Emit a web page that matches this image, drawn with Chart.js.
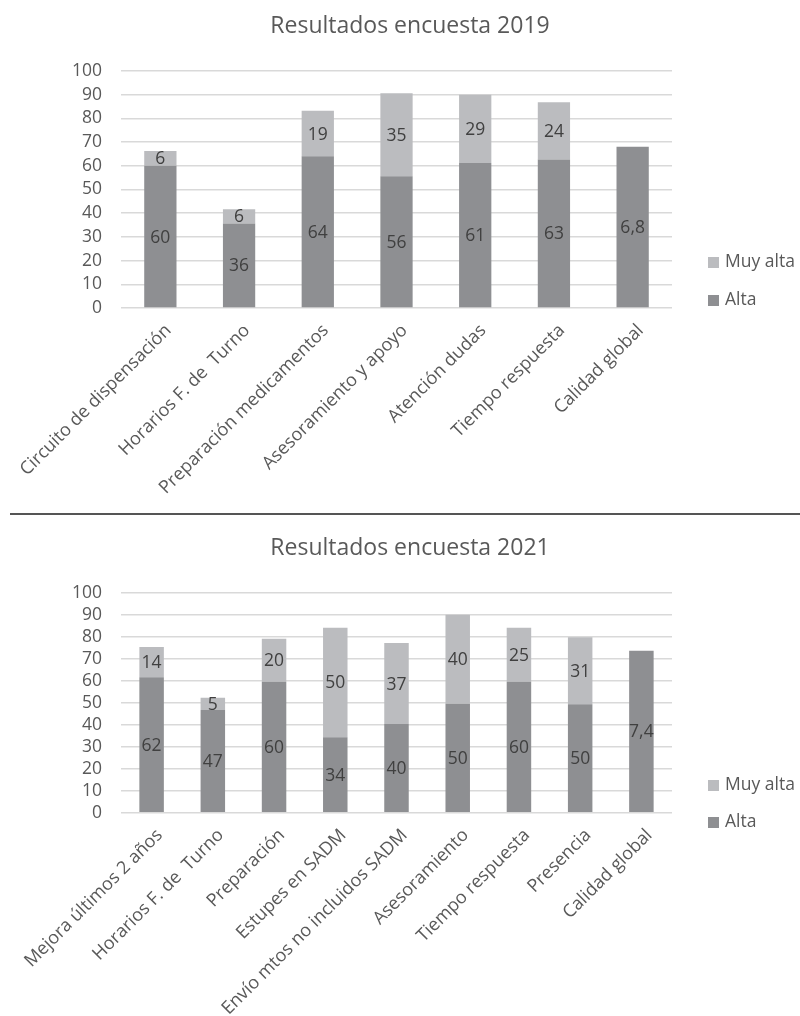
<!DOCTYPE html>
<html>
<head>
<meta charset="utf-8">
<script src="https://cdn.jsdelivr.net/npm/chart.js@4.4.0/dist/chart.umd.min.js"></script>
<style>
  body { margin: 0; background: #fff; font-family: "Open Sans", sans-serif; }
  .box { position: absolute; left: 0; width: 800px; }
  .sep { position: absolute; left: 10px; top: 513px; width: 790px; height: 2px; background: #555; }
  .leg { position: absolute; left: 708px; font-size: 17.5px; color: #595959; line-height: 20px; white-space: nowrap; }
  .leg span { display: inline-block; width: 11px; height: 11px; margin-right: 6px; vertical-align: -1px; }
</style>
</head>
<body>
<div class="box" style="top:0;height:512px"><canvas id="c2019"></canvas></div>
<div class="sep"></div>
<div class="box" style="top:516px;height:500px"><canvas id="c2021"></canvas></div>

<div class="leg" style="top:250px"><span style="background:#bbbcbf"></span>Muy alta</div>
<div class="leg" style="top:288px"><span style="background:#8e8f92"></span>Alta</div>
<div class="leg" style="top:773px"><span style="background:#bbbcbf"></span>Muy alta</div>
<div class="leg" style="top:810px"><span style="background:#8e8f92"></span>Alta</div>

<script>
// 2019 survey
const categories2019 = ["Circuito de dispensación", "Horarios F. de  Turno", "Preparación medicamentos",
  "Asesoramiento y apoyo", "Atención dudas", "Tiempo respuesta", "Calidad global"];
const alta2019 = [60, 35.7, 64, 55.6, 61.2, 62.7, 68];
const muyAlta2019 = [6.2, 6, 19.2, 35, 28.8, 24.1, null];
const altaText2019 = ["60", "36", "64", "56", "61", "63", "6,8"];
const muyAltaText2019 = ["6", "6", "19", "35", "29", "24", null];

// 2021 survey
const categories2021 = ["Mejora últimos 2 años", "Horarios F. de  Turno", "Preparación", "Estupes en SADM",
  "Envío mtos no incluidos SADM", "Asesoramiento", "Tiempo respuesta", "Presencia", "Calidad global"];
const alta2021 = [61.6, 46.7, 59.5, 34.3, 40.3, 49.5, 59.5, 49.3, 73.6];
const muyAlta2021 = [13.7, 5.6, 19.6, 49.8, 36.8, 40.5, 24.6, 30.4, null];
const altaText2021 = ["62", "47", "60", "34", "40", "50", "60", "50", "7,4"];
const muyAltaText2021 = ["14", "5", "20", "50", "37", "40", "25", "31", null];

const yTicks = { min: 0, max: 100, count: 11 };

Chart.defaults.font.family = '"Open Sans", sans-serif';
Chart.defaults.color = "#595959";

// value labels in the middle of each segment
const segmentLabels = {
  id: "segmentLabels",
  afterDatasetsDraw(chart) {
    const ctx = chart.ctx;
    ctx.save();
    ctx.font = '17.5px "Open Sans"';
    ctx.fillStyle = "#404040";
    ctx.textAlign = "center";
    ctx.textBaseline = "middle";
    chart.data.datasets.forEach((ds, i) => {
      chart.getDatasetMeta(i).data.forEach((bar, j) => {
        const txt = ds.valueText[j];
        if (!txt) return;
        ctx.fillText(txt, bar.x, (bar.y + bar.base) / 2 + 1);
      });
    });
    ctx.restore();
  }
};

function makeChart(id, title, labels, alta, muyAlta, altaText, muyAltaText, o) {
  return new Chart(document.getElementById(id), {
    type: "bar",
    data: {
      labels: labels,
      datasets: [
        { label: "Alta", data: alta, valueText: altaText, backgroundColor: "#8e8f92" },
        { label: "Muy alta", data: muyAlta, valueText: muyAltaText, backgroundColor: "#bbbcbf" }
      ]
    },
    options: {
      responsive: true,
      maintainAspectRatio: false,
      animation: false,
      categoryPercentage: 1,
      barPercentage: o.barPct,
      layout: { padding: { left: 20, right: 0, top: 0, bottom: 0 } },
      plugins: {
        legend: { display: false },
        tooltip: { enabled: false },
        title: {
          display: true,
          text: title,
          color: "#595959",
          font: { size: 23, weight: "normal" },
          padding: { top: o.titleTop, bottom: o.titleBottom }
        }
      },
      scales: {
        x: {
          stacked: true,
          grid: { display: false },
          border: { display: false },
          ticks: { autoSkip: false, minRotation: 45, maxRotation: 45, font: { size: 18 }, padding: 4, labelOffset: 8 },
          afterFit(s) { s.height = o.xHeight; }
        },
        y: {
          stacked: true,
          min: yTicks.min,
          max: yTicks.max,
          ticks: { count: yTicks.count, font: { size: 17.5, lineHeight: 1 }, padding: 19 },
          grid: { color: "#d9d9d9", lineWidth: 1.5, drawTicks: false },
          border: { display: false },
          afterFit(s) { s.width = 101; }
        },
        spacer: {
          type: "linear",
          axis: "y",
          position: "right",
          grid: { display: false },
          border: { display: false },
          ticks: { display: false },
          afterFit(s) { s.width = 128; }
        }
      }
    },
    plugins: [segmentLabels]
  });
}

makeChart("c2019", "Resultados encuesta 2019", categories2019, alta2019, muyAlta2019, altaText2019, muyAltaText2019,
  { barPct: 0.41, titleTop: 12.2, titleBottom: 31.2, xHeight: 204 });
makeChart("c2021", "Resultados encuesta 2021", categories2021, alta2021, muyAlta2021, altaText2021, muyAltaText2021,
  { barPct: 0.40, titleTop: 18.2, titleBottom: 30.9, xHeight: 203.3 });
</script>
</body>
</html>
